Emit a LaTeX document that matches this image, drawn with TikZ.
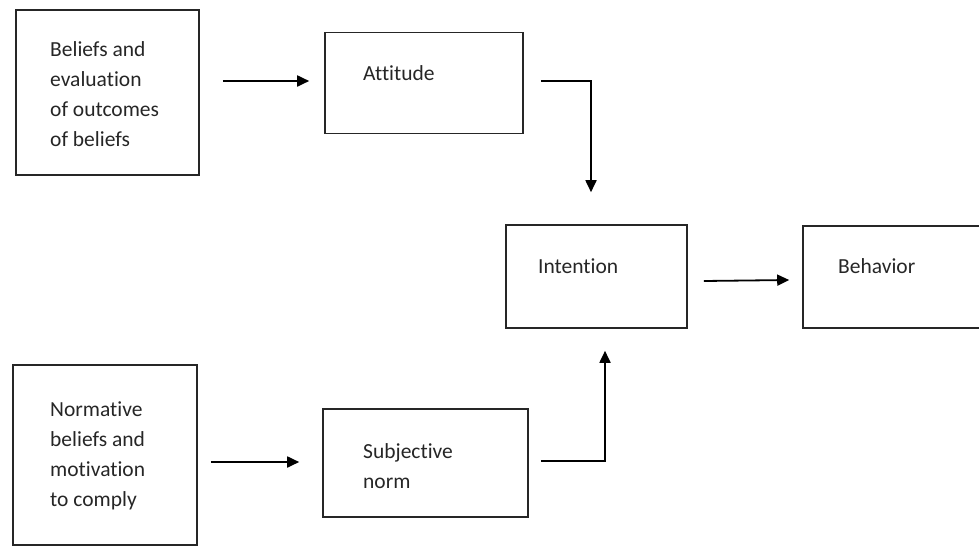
\documentclass[tikz,border=0pt]{standalone}
\usepackage{fontspec}
\setmainfont{Carlito}[Ligatures={NoCommon}]
\usetikzlibrary{arrows.meta}
\tikzset{
  box/.style={draw=black!85, line width=1.6pt, rectangle, inner sep=0pt},
  txt/.style={font=\fontsize{21.5}{30}\selectfont, align=left, inner sep=0pt, anchor=base west, text=black!85},
  conn/.style={draw=black, line width=1.8pt, -{Triangle[length=12pt,width=11pt]}}
}
\begin{document}
\begin{tikzpicture}[x=1pt,y=-1pt]
\useasboundingbox (0,0) rectangle (979,546);
% boxes
\node[box, minimum width=183pt, minimum height=165pt] (bel) at (107.5,92.5) {};
\node[box, minimum width=198pt, minimum height=101pt] (att) at (424,83) {};
\node[box, minimum width=181pt, minimum height=103pt] (int) at (596.5,276.5) {};
\node[box, minimum width=190pt, minimum height=102pt] (beh) at (898,277) {};
\node[box, minimum width=184pt, minimum height=180pt] (nor) at (105,455) {};
\node[box, minimum width=205pt, minimum height=108pt] (sub) at (425.5,463) {};
% texts (base anchor = baseline of last line)
\node[txt] (tbel) at (50,146) {Beliefs and\\evaluation\\of outcomes\\of beliefs};
\node[txt] (tatt) at (363,80) {Attitude};
\node[txt] (tint) at (538,273) {Intention};
\node[txt] (tbeh) at (838,273) {Behavior};
\node[txt] (tnor) at (50,506) {Normative\\beliefs and\\motivation\\to comply};
\node[txt] (tsub) at (363,488) {Subjective\\norm};
% connectors
\coordinate (p1) at ([xshift=23pt,yshift=11.5pt]bel.east);
\coordinate (p2) at ([xshift=-15pt]att.west |- p1);
\draw[conn] (p1) -- (p2);
\coordinate (c1) at ([xshift=17pt,yshift=2pt]att.east);
\coordinate (c2) at (591,81);
\coordinate (c3) at ([yshift=32pt]int.north -| c2);
\draw[conn] (c1) -- (c2) -- (c3);
\coordinate (d1) at ([xshift=16pt,yshift=-4.5pt]int.east);
\coordinate (d2) at ([xshift=-13pt,yshift=-3pt]beh.west);
\draw[conn] (d1) -- (d2);
\coordinate (e1) at ([xshift=13pt,yshift=-7pt]nor.east);
\coordinate (e2) at ([xshift=-23pt]sub.west |- e1);
\draw[conn] (e1) -- (e2);
\coordinate (f1) at ([xshift=12pt,yshift=2pt]sub.east);
\coordinate (f2) at (605,461);
\coordinate (f3) at ([yshift=-22pt]int.south -| f2);
\draw[conn] (f1) -- (f2) -- (f3);
\end{tikzpicture}
\end{document}
